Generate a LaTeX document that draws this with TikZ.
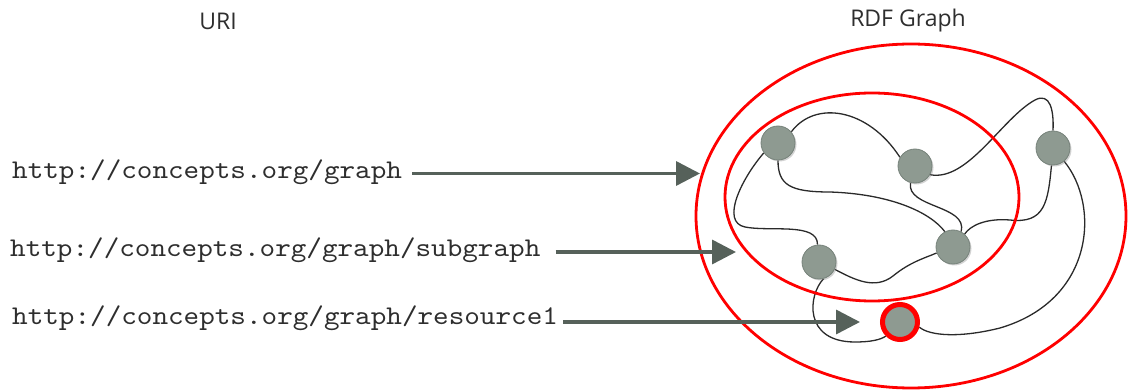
\documentclass[tikz,border=0pt]{standalone}
\usepackage{fontspec}
\newfontfamily\urifont[FakeStretch=1.1]{lmmono10-regular.otf}
\newfontfamily\headfont{Open Sans}
\usetikzlibrary{arrows.meta,shadows,backgrounds}
\definecolor{nodefill}{HTML}{8E9A91}
\definecolor{nodeline}{HTML}{76827A}
\definecolor{arrowcol}{HTML}{56615A}
\definecolor{ringred}{HTML}{FF0000}
\definecolor{edgecol}{HTML}{2A2A2A}
\definecolor{textcol}{HTML}{2E2E2E}

\begin{document}
\begin{tikzpicture}[x=1pt,y=-1pt,
  resource/.style={circle, minimum size=34pt, inner sep=0pt, fill=nodefill,
    draw=nodeline, line width=0.8pt,
    drop shadow={shadow xshift=1.5pt, shadow yshift=-1.5pt, opacity=0.35}},
  picked/.style={resource, minimum size=35pt, draw=ringred, line width=5pt},
  uri/.style={anchor=base west, inner sep=0pt, text=textcol,
    font=\fontsize{27}{31}\selectfont\urifont},
  header/.style={inner sep=0pt, text=textcol, font=\fontsize{23}{27}\selectfont\headfont},
  scopering/.style={draw=ringred, line width=2.8pt},
  link/.style={draw=edgecol, line width=1.3pt},
  pointer/.style={draw=arrowcol, line width=3.5pt,
    -{Triangle[length=24pt,width=24pt]}}]
\useasboundingbox (0,0) rectangle (1128,390);

% column headers
\node[header] (hleft) at (218,21) {URI};
\node[header] (hright) at (908,21) {RDF Graph};

% graph and subgraph boundaries
\draw[scopering] (911,216) ellipse [x radius=215, y radius=172];
\draw[scopering] (872,197) ellipse [x radius=147, y radius=104];

% resources
\node[resource] (A) at (778,143) {};
\node[resource] (B) at (915,166) {};
\node[resource] (C) at (1053,148) {};
\node[resource] (D) at (819,262) {};
\node[resource] (E) at (953,247) {};
\node[picked] (F) at (900,322) {};

% statements linking the resources, kept under the nodes
\begin{pgfonlayer}{background}
\path[link] (A.40) .. controls (815,100) and (868,108) .. (B.150);
\path[link] (A.270) .. controls (778,185) and (790,192) .. (830,192)
   .. controls (890,194) and (930,212) .. (E.118);
\path[link] (A.215) .. controls (742,178) and (720,222) .. (745,227)
   .. controls (770,232) and (818,222) .. (D.95);
\path[link] (B.255) .. controls (906,208) and (968,205) .. (E.62);
\path[link] (B.-30) .. controls (968,182) and (1002,118) .. (1035,100)
   .. controls (1050,92) and (1054,110) .. (C.90);
\path[link] (C.265) .. controls (1048,202) and (1045,224) .. (1010,220)
   .. controls (985,218) and (970,226) .. (E.48);
\path[link] (C.-50) .. controls (1100,205) and (1095,300) .. (1000,328)
   .. controls (960,338) and (930,336) .. (F.-15);
\path[link] (D.-25) .. controls (855,280) and (875,290) .. (893,276)
   .. controls (910,262) and (925,258) .. (E.200);
\path[link] (D.-75) .. controls (808,295) and (803,342) .. (855,342)
   .. controls (870,342) and (880,340) .. (F.225);
\end{pgfonlayer}

% URIs naming the graph, the subgraph and one resource
\node[uri] (u1) at (12,179) {http://concepts.org/graph};
\node[uri] (u2) at (10,257) {http://concepts.org/graph/subgraph};
\node[uri] (u3) at (12,324) {http://concepts.org/graph/resource1};

\coordinate (t1) at (700,173.5);
\coordinate (t2) at (736,252);
\coordinate (t3) at (860,322);

\draw[pointer] (u1.east |- t1) ++(10,0) -- (t1);
\draw[pointer] (u2.east |- t2) ++(15,0) -- (t2);
\draw[pointer] (u3.east |- t3) ++(5,0) -- (t3);
\end{tikzpicture}
\end{document}
